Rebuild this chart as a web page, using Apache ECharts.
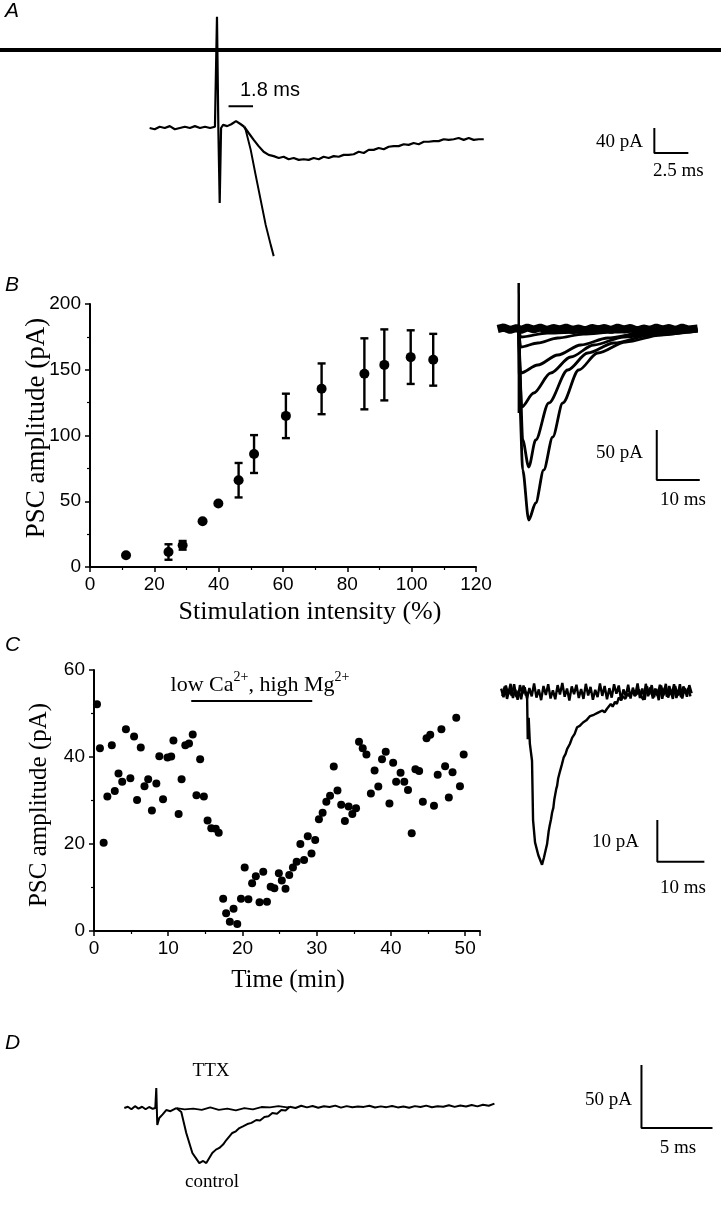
<!DOCTYPE html>
<html><head><meta charset="utf-8">
<script src="https://cdn.jsdelivr.net/npm/echarts@6/dist/echarts.min.js"></script>
<style>html,body{margin:0;padding:0;background:#fff}#c{width:726px;height:1212px}</style>
</head><body><div id="c"></div>
<script>
// ---------- Panel A (ms, pA) ----------
const aTopLine = [[-16,125],[37,125]];
const aShared = [[-5.0,0],[-4.63,-2],[-4.26,2],[-3.89,0],[-3.52,3],[-3.15,-2],[-2.78,0],[-2.41,2],[-2.04,0],[-1.67,3],[-1.3,0],[-0.93,2],[-0.56,0],[-0.2,2],[-0.1,0],[-0.05,178],[0.05,0],[0.15,-120],[0.25,0],[0.4,5],[0.7,3],[1.0,6],[1.35,11],[1.7,6],[1.95,2]];
const aSlow = [[1.95,2],[2.28,-8],[2.65,-19],[3.01,-29],[3.38,-38],[3.75,-43],[4.12,-45],[4.49,-48],[4.85,-46],[5.22,-50],[5.59,-48],[5.96,-51],[6.32,-50],[6.69,-51],[7.06,-48],[7.43,-50],[7.79,-46],[8.16,-48],[8.53,-45],[8.9,-46],[9.26,-43],[9.63,-43],[10.0,-42],[10.37,-38],[10.74,-40],[11.1,-35],[11.47,-35],[11.84,-32],[12.21,-34],[12.57,-30],[12.94,-29],[13.31,-29],[13.68,-26],[14.04,-27],[14.41,-24],[14.78,-26],[15.15,-22],[15.51,-22],[15.88,-21],[16.25,-21],[16.62,-18],[16.99,-19],[17.35,-18],[17.72,-16],[18.09,-19],[18.46,-16],[18.82,-19],[19.19,-18],[19.56,-18]];
const aFast = [[1.95,2],[2.06,-3],[2.43,-35],[2.79,-75],[3.16,-115],[3.53,-155],[3.9,-187],[4.12,-205]];
const aDelayBar = [[0.8,35],[2.6,35]];
const aScale = [[32.1,0],[32.1,-40],[34.6,-40]];

// ---------- Panel B scatter ----------
const bIntensity = [11.2,24.4,28.8,35.0,39.9,46.2,51.0,60.9,72.0,85.3,91.5,99.7,106.7];
const bAmplitude = [9,11.4,16.5,34.8,48.3,66,85.9,114.9,135.5,146.9,153.7,159.6,157.6];
const bError = [0,5.9,3.3,0,0,13.1,14.4,16.9,19.3,27,27,20.4,19.7];
const bXTicks = [0,20,40,60,80,100,120];
const bYTicks = [0,50,100,150,200];

// ---------- Panel B traces (ms, pA) ----------
const bBase = [[-4.9,0],[-3.5,1.5],[-2,-1],[-0.5,1],[0.5,-1],[2,1.5],[3.5,-0.5],[5,1.5],[6.5,-1],[8,1],[9.5,-0.5],[11,1.5],[12.5,-1],[14,0.5],[15.5,-1.5],[17,1],[18.5,-0.5],[20,1],[21.5,-1],[23,1.5],[24.5,-0.5],[26,1],[27.5,-1.5],[29,0.5],[30.5,-1],[32,1.5],[33.5,-0.5],[35,1],[36.5,-1],[38,1.5],[39.5,-0.5],[41.6,0.5]];
const bT1 = [[0,0],[0.23,-74],[0.93,-141],[2.33,-191],[3.95,-174],[5.81,-141],[7.91,-108],[10.23,-74],[13.95,-41],[18.37,-24],[24.88,-13],[33.02,-6],[41.6,-1]];
const bT2 = [[0,0],[0.23,-40],[0.93,-111],[2.33,-138],[3.95,-111],[6.98,-74],[11.4,-41],[16.05,-24],[22.1,-14],[30.7,-6],[41.6,-2]];
const bT3 = [[0,0],[0.7,-78],[3.49,-64],[7.44,-44],[12.09,-28],[17.44,-16],[24.42,-8],[33.7,-3],[41.6,0]];
const bT4 = [[0,0],[0.47,-44],[4.42,-36],[9.07,-26],[14.42,-16],[20.7,-9],[28.4,-4],[38,-1]];
const bT5 = [[0,0],[0.47,-18],[4.42,-14],[9.07,-9],[15.1,-5],[22.1,-3],[30,-1]];
const bT6 = [[0,0],[0.47,-8],[6.7,-4],[14.4,-3],[22,-1]];
const bSpike = [[0,46],[0.05,-84]];
const bScale = [[32.1,-101],[32.1,-151],[42.1,-151]];

// ---------- Panel C scatter ----------
const cTime = [0.4,0.8,1.3,1.8,2.4,2.8,3.3,3.8,4.3,4.9,5.4,5.8,6.3,6.8,7.3,7.8,8.4,8.8,9.3,9.9,10.4,10.7,11.4,11.8,12.3,12.8,13.3,13.8,14.3,14.8,15.3,15.8,16.4,16.8,17.4,17.8,18.3,18.8,19.3,19.8,20.3,20.8,21.3,21.8,22.3,22.8,23.3,23.8,24.3,24.9,25.3,25.8,26.3,26.8,27.3,27.8,28.3,28.8,29.3,29.8,30.3,30.8,31.3,31.8,32.3,32.8,33.3,33.8,34.3,34.8,35.3,35.7,36.2,36.7,37.3,37.8,38.3,38.8,39.3,39.8,40.3,40.7,41.3,41.8,42.3,42.8,43.3,43.8,44.3,44.8,45.3,45.8,46.3,46.8,47.3,47.8,48.3,48.8,49.3,49.8];
const cAmplitude = [52.1,42.0,20.3,30.9,42.7,32.2,36.2,34.3,46.4,35.1,44.7,30.1,42.2,33.3,34.9,27.7,33.9,40.2,30.3,39.9,40.1,43.8,26.9,34.9,42.7,43.1,45.2,31.2,39.5,30.9,25.4,23.6,23.5,22.6,7.4,4.1,2.1,5.1,1.6,7.4,14.6,7.3,11.0,12.6,6.6,13.6,6.7,10.2,9.8,13.3,11.6,9.7,12.9,14.6,15.9,20.0,16.3,21.8,17.8,20.9,25.7,27.2,29.7,31.1,37.8,32.3,29.0,25.3,28.6,26.9,28.2,43.5,42.0,40.6,31.6,36.9,33.2,39.5,41.2,29.3,38.7,34.3,36.4,34.3,32.4,22.5,37.2,36.8,29.7,44.3,45.1,28.8,35.9,46.4,37.9,30.7,36.5,49.0,33.3,40.6];
const cXTicks = [0,10,20,30,40,50];
const cYTicks = [0,20,40,60];
const cDrugBar = [[13.1,52.9],[29.4,52.9]];

// ---------- Panel C traces (ms, pA) ----------
const cFailure = [[-5.5,0.8],[-5,-1.2],[-4.5,1.5],[-4,-0.6],[-3.5,1.9],[-3,-1.4],[-2.5,0.5],[-2,-1.8],[-1.5,1.6],[-1,-0.4],[-0.5,1.1],[0,-1.5],[0.5,0.9],[1,-1.0],[1.5,2.0],[2,-1.3],[2.5,0.6],[3,-1.9],[3.5,1.4],[4,-0.7],[4.5,1.8],[5,-1.5],[5.5,0.4],[6,-1.7],[6.5,1.6],[7,-0.6],[7.5,2.1],[8,-1.1],[8.5,0.8],[9,-2.0],[9.5,1.3],[10,-0.5],[10.5,1.7],[11,-1.4],[11.5,0.7],[12,-1.6],[12.5,1.9],[13,-0.8],[13.5,1.2],[14,-1.8],[14.5,0.5],[15,-1.2],[15.5,2.0],[16,-0.9],[16.5,1.4],[17,-1.7],[17.5,0.9],[18,-1.3],[18.5,1.8],[19,-0.4],[19.5,1.5],[20,-1.9],[20.5,0.6],[21,-1.0],[21.5,1.7],[22,-1.5],[22.5,1.0],[23,-0.7],[23.5,2.0],[24,-1.4],[24.5,0.8],[25,-1.8],[25.5,1.3],[26,-0.6],[26.5,1.6],[27,-1.2],[27.5,0.7],[28,-1.9],[28.5,1.5],[29,-0.8],[29.5,1.9],[30,-1.3],[30.5,0.5],[31,-1.6],[31.5,1.4],[32,-0.9],[32.5,1.8],[33,-1.5],[33.5,0.9],[34,-1.1],[34.5,1.6],[35,-0.3]];
const cPSC = [[-5.25,-1.0],[-4.75,1.3],[-4.25,-1.6],[-3.75,0.7],[-3.25,-0.9],[-2.75,1.8],[-2.25,-1.2],[-1.75,0.4],[-1.25,-1.7],[-0.75,1.5],[-0.25,-0.8],[0,0],[0.15,-11],[0.35,-6],[0.6,-12],[1.06,-16],[1.28,-29.8],[1.7,-35],[2.4,-38],[3.19,-40.2],[3.6,-38.5],[4.0,-36.6],[4.26,-35.4],[4.6,-32.4],[4.8,-31.2],[5.1,-29.6],[5.32,-28.1],[5.6,-26.9],[5.8,-25.0],[6.0,-24.6],[6.2,-22.6],[6.4,-21.8],[6.6,-20.2],[6.8,-20.0],[7.02,-18.4],[7.2,-18.2],[7.4,-16.9],[7.6,-16.7],[7.8,-15.2],[8.0,-15.4],[8.2,-14.4],[8.51,-13.3],[8.8,-13.6],[9.1,-12.1],[9.4,-12.2],[9.6,-10.6],[9.9,-10.9],[10.1,-9.8],[10.4,-10.0],[10.64,-8.2],[10.9,-8.6],[11.2,-7.9],[11.5,-8.3],[11.9,-7.1],[12.2,-7.4],[12.6,-6.6],[13.0,-6.9],[13.4,-5.6],[13.8,-6.0],[14.2,-5.3],[14.6,-5.7],[15.1,-4.8],[15.5,-5.2],[16.0,-4.3],[16.5,-4.7],[17.0,-3.9],[17.4,-4.3],[17.8,-2.8],[18.2,-3.4],[18.7,-2.3],[19.1,-2.8],[19.5,-1.3],[20.0,-1.9],[20.4,-1.0],[20.9,-1.6],[21.4,-0.4],[21.8,-1.0],[22.4,0.2],[22.9,-0.9],[23.4,-0.4],[23.8,0.6],[24.25,-1.0],[24.75,-1.8],[25.25,1.9],[25.75,-1.0],[26.25,1.1],[26.75,-1.5],[27.25,0.8],[27.75,-0.9],[28.25,1.7],[28.75,-1.6],[29.25,1.0],[29.75,-1.1],[30.25,1.4],[30.75,-0.7],[31.25,1.8],[31.75,-1.4],[32.25,0.5],[32.75,-1.2],[33.25,1.3],[33.75,-0.3],[34.25,0.9],[34.75,-1.0]];
const cScale = [[27.7,-29.8],[27.7,-39.5],[37.7,-39.5]];

// ---------- Panel D (ms, pA) ----------
const dShared = [[-2.25,0],[-2.0,1],[-1.75,-1],[-1.5,1.5],[-1.25,-0.5],[-1.0,1],[-0.75,-1],[-0.5,0.8],[-0.25,-0.6],[-0.07,0],[0,15.9],[0.07,-13.5],[0.21,-7.9],[0.45,-5],[0.7,-1.6],[1.0,-2.5],[1.41,0]];
const dTTX = [[1.41,0],[2,-1],[2.6,-0.5],[3.2,-1.5],[3.8,0.5],[4.4,-1.5],[5,-0.5],[5.6,-1.8],[6.2,0],[6.8,-1],[7.4,0.8],[8,0.5],[8.6,1.5],[9.2,0.5],[9.4,1]];
const dControl = [[1.41,0],[1.76,-3.2],[2.11,-19.8],[2.54,-35.7],[3.03,-43.7],[3.3,-42],[3.52,-43.7],[3.94,-35.7],[4.2,-33],[4.44,-31.7],[4.7,-29],[4.93,-25.4],[5.35,-19.8],[5.6,-18.5],[5.85,-15.9],[6.1,-14.5],[6.41,-12.7],[6.7,-11.8],[7.04,-9.5],[7.3,-9.9],[7.61,-7.1],[7.9,-6.6],[8.17,-4],[8.5,-4.5],[8.8,-1.6],[9.1,-2],[9.4,1]];
const dTail = [[9.4,1],[9.8,0],[10.2,1.8],[10.6,0.5],[11,1.6],[11.4,0.2],[11.8,1.4],[12.2,0.8],[12.6,1.9],[13,0.3],[13.4,1.5],[13.8,0.6],[14.2,1.2],[14.6,0.9],[15,1.8],[15.4,0.4],[15.8,1.3],[16.2,0.7],[16.6,1.6],[17,0.5],[17.4,1.2],[17.8,0.2],[18.2,1.5],[18.6,0.8],[19,1.9],[19.4,0.6],[19.8,1.4],[20.2,1.0],[20.6,2.2],[21,0.9],[21.4,2.0],[21.8,1.2],[22.2,2.4],[22.6,1.3],[23,2.6],[23.4,1.8],[23.8,3.5]];
const dScale = [[34.15,34.1],[34.15,-15.9],[39.15,-15.9]];

// ---------- build ----------
const chart = echarts.init(document.getElementById('c'), null, {renderer:'canvas'});
const SANS = 'Liberation Sans, Arial, sans-serif';
const SERIF = 'Liberation Serif, Times New Roman, serif';
const K = '#000';

function hiddenAx(min, max, gi){ return {type:'value', gridIndex:gi, min:min, max:max, show:false}; }
function shownAx(min, max, interval, gi, isX){
  return {type:'value', gridIndex:gi, min:min, max:max, interval:interval,
    axisLine:{show:true, onZero:false, lineStyle:{color:K, width:2}},
    axisTick:{show:true, inside:false, length:5, lineStyle:{color:K, width:1.5}},
    minorTick:{show:true, splitNumber:2, length:3, lineStyle:{color:K, width:1.2}},
    splitLine:{show:false}, minorSplitLine:{show:false},
    axisLabel:{color:K, fontFamily:SANS, fontSize:19, margin:isX?8:9, showMaxLabel: !(isX && max===52)}};
}
function line(data, xi, w, extra){
  return Object.assign({type:'line', data:data, xAxisIndex:xi, yAxisIndex:xi, symbol:'none', showSymbol:false,
    lineStyle:{color:K, width:w, opacity:1}, itemStyle:{color:K}, silent:true, animation:false, z:3}, extra||{});
}

const errData = bIntensity.map((x,i)=>[x, bAmplitude[i]-bError[i], bAmplitude[i]+bError[i]]);

const option = {
  backgroundColor:'#fff',
  animation:false,
  grid:[
    {left:0, top:3, width:721, height:262.5},
    {left:90, top:304, width:386, height:263},
    {left:480, top:270, width:246, height:260},
    {left:94, top:670, width:386, height:261},
    {left:480, top:640, width:246, height:260},
    {left:0, top:1030, width:726, height:182}
  ],
  xAxis:[
    hiddenAx(-16,37,0),
    shownAx(0,120,20,1,true),
    hiddenAx(-9,48.2,2),
    shownAx(0,52,10,3,true),
    hiddenAx(-10,42.3,4),
    hiddenAx(-11,40.1,5)
  ],
  yAxis:[
    hiddenAx(-220,200,0),
    shownAx(0,200,50,1,false),
    hiddenAx(-201,59,2),
    shownAx(0,60,20,3,false),
    hiddenAx(-48.4,12.1,4),
    hiddenAx(-82.5,61.9,5)
  ],
  series:[
    line(aTopLine,0,4),
    line(aShared,0,2.2),
    line(aSlow,0,2.2),
    line(aFast,0,2),
    line(aDelayBar,0,2),
    line(aScale,0,2),
    {type:'custom', xAxisIndex:1, yAxisIndex:1, data:errData, silent:true, z:2,
      encode:{x:0, y:[1,2]},
      renderItem:function(params, api){
        const x = api.value(0), lo = api.value(1), hi = api.value(2);
        if (hi - lo <= 0) return null;
        const a = api.coord([x, lo]), b = api.coord([x, hi]);
        const w = 4, st = {stroke:K, lineWidth:2.4};
        return {type:'group', children:[
          {type:'line', shape:{x1:a[0],y1:a[1],x2:b[0],y2:b[1]}, style:st},
          {type:'line', shape:{x1:a[0]-w,y1:a[1],x2:a[0]+w,y2:a[1]}, style:st},
          {type:'line', shape:{x1:b[0]-w,y1:b[1],x2:b[0]+w,y2:b[1]}, style:st}
        ]};
      }},
    {type:'scatter', xAxisIndex:1, yAxisIndex:1, data:bIntensity.map((x,i)=>[x,bAmplitude[i]]),
      symbol:'circle', symbolSize:10, itemStyle:{color:K, opacity:1}, silent:true, z:4},
    line(bBase,2,8),
    line(bT1,2,2.8,{smooth:0.3, smoothMonotone:'x'}),
    line(bT2,2,2.8,{smooth:0.3, smoothMonotone:'x'}),
    line(bT3,2,2.8,{smooth:0.3, smoothMonotone:'x'}),
    line(bT4,2,2.8,{smooth:0.3, smoothMonotone:'x'}),
    line(bT5,2,2.8,{smooth:0.3, smoothMonotone:'x'}),
    line(bT6,2,2.8,{smooth:0.3, smoothMonotone:'x'}),
    line(bSpike,2,2.5),
    line(bScale,2,2),
    {type:'scatter', xAxisIndex:3, yAxisIndex:3, data:cTime.map((t,i)=>[t,cAmplitude[i]]),
      symbol:'circle', symbolSize:8, itemStyle:{color:K, opacity:1}, silent:true, z:4},
    line(cDrugBar,3,2),
    line(cFailure,4,2.4),
    line(cPSC,4,2.4),
    line(cScale,4,2),
    line(dShared,5,2),
    line(dTTX,5,1.8),
    line(dControl,5,2),
    line(dTail,5,2),
    line(dScale,5,2)
  ],
  graphic:[
    {type:'text', left:5, top:1, style:{text:'A', font:'italic 21px '+SANS, fill:K}},
    {type:'text', left:240, top:80, style:{text:'1.8 ms', font:'20px '+SANS, fill:K}},
    {type:'text', right:726-643, top:133, style:{text:'40 pA', font:'19px '+SERIF, fill:K}},
    {type:'text', left:653, top:162, style:{text:'2.5 ms', font:'19px '+SERIF, fill:K}},

    {type:'text', left:5, top:275, style:{text:'B', font:'italic 21px '+SANS, fill:K}},
    {type:'text', x:37, y:428, rotation:Math.PI/2, style:{text:'PSC amplitude (pA)', font:'27px '+SERIF, fill:K, align:'center', verticalAlign:'middle'}},
    {type:'text', x:310, y:612, style:{text:'Stimulation intensity (%)', font:'26px '+SERIF, fill:K, align:'center', verticalAlign:'middle'}},
    {type:'text', x:643, y:453, style:{text:'50 pA', font:'19px '+SERIF, fill:K, align:'right', verticalAlign:'middle'}},
    {type:'text', x:683, y:500, style:{text:'10 ms', font:'19px '+SERIF, fill:K, align:'center', verticalAlign:'middle'}},

    {type:'text', left:5, top:635, style:{text:'C', font:'italic 21px '+SANS, fill:K}},
    {type:'text', x:260, y:683, style:{text:'{a|low Ca}{s|2+}{a|, high Mg}{s|2+}', align:'center', verticalAlign:'middle',
      rich:{a:{font:'22px '+SERIF, fill:K, lineHeight:26, verticalAlign:'bottom'}, s:{font:'14px '+SERIF, fill:K, lineHeight:26, verticalAlign:'top'}}}},
    {type:'text', x:39, y:805, rotation:Math.PI/2, style:{text:'PSC amplitude (pA)', font:'25px '+SERIF, fill:K, align:'center', verticalAlign:'middle'}},
    {type:'text', x:288, y:980, style:{text:'Time (min)', font:'25px '+SERIF, fill:K, align:'center', verticalAlign:'middle'}},
    {type:'text', x:639, y:842, style:{text:'10 pA', font:'19px '+SERIF, fill:K, align:'right', verticalAlign:'middle'}},
    {type:'text', x:683, y:888, style:{text:'10 ms', font:'19px '+SERIF, fill:K, align:'center', verticalAlign:'middle'}},

    {type:'text', left:5, top:1033, style:{text:'D', font:'italic 21px '+SANS, fill:K}},
    {type:'text', x:211, y:1071, style:{text:'TTX', font:'19px '+SERIF, fill:K, align:'center', verticalAlign:'middle'}},
    {type:'text', x:212, y:1182, style:{text:'control', font:'19px '+SERIF, fill:K, align:'center', verticalAlign:'middle'}},
    {type:'text', x:632, y:1100, style:{text:'50 pA', font:'19px '+SERIF, fill:K, align:'right', verticalAlign:'middle'}},
    {type:'text', x:678, y:1148, style:{text:'5 ms', font:'19px '+SERIF, fill:K, align:'center', verticalAlign:'middle'}}
  ]
};
chart.setOption(option);
</script>
</body></html>
